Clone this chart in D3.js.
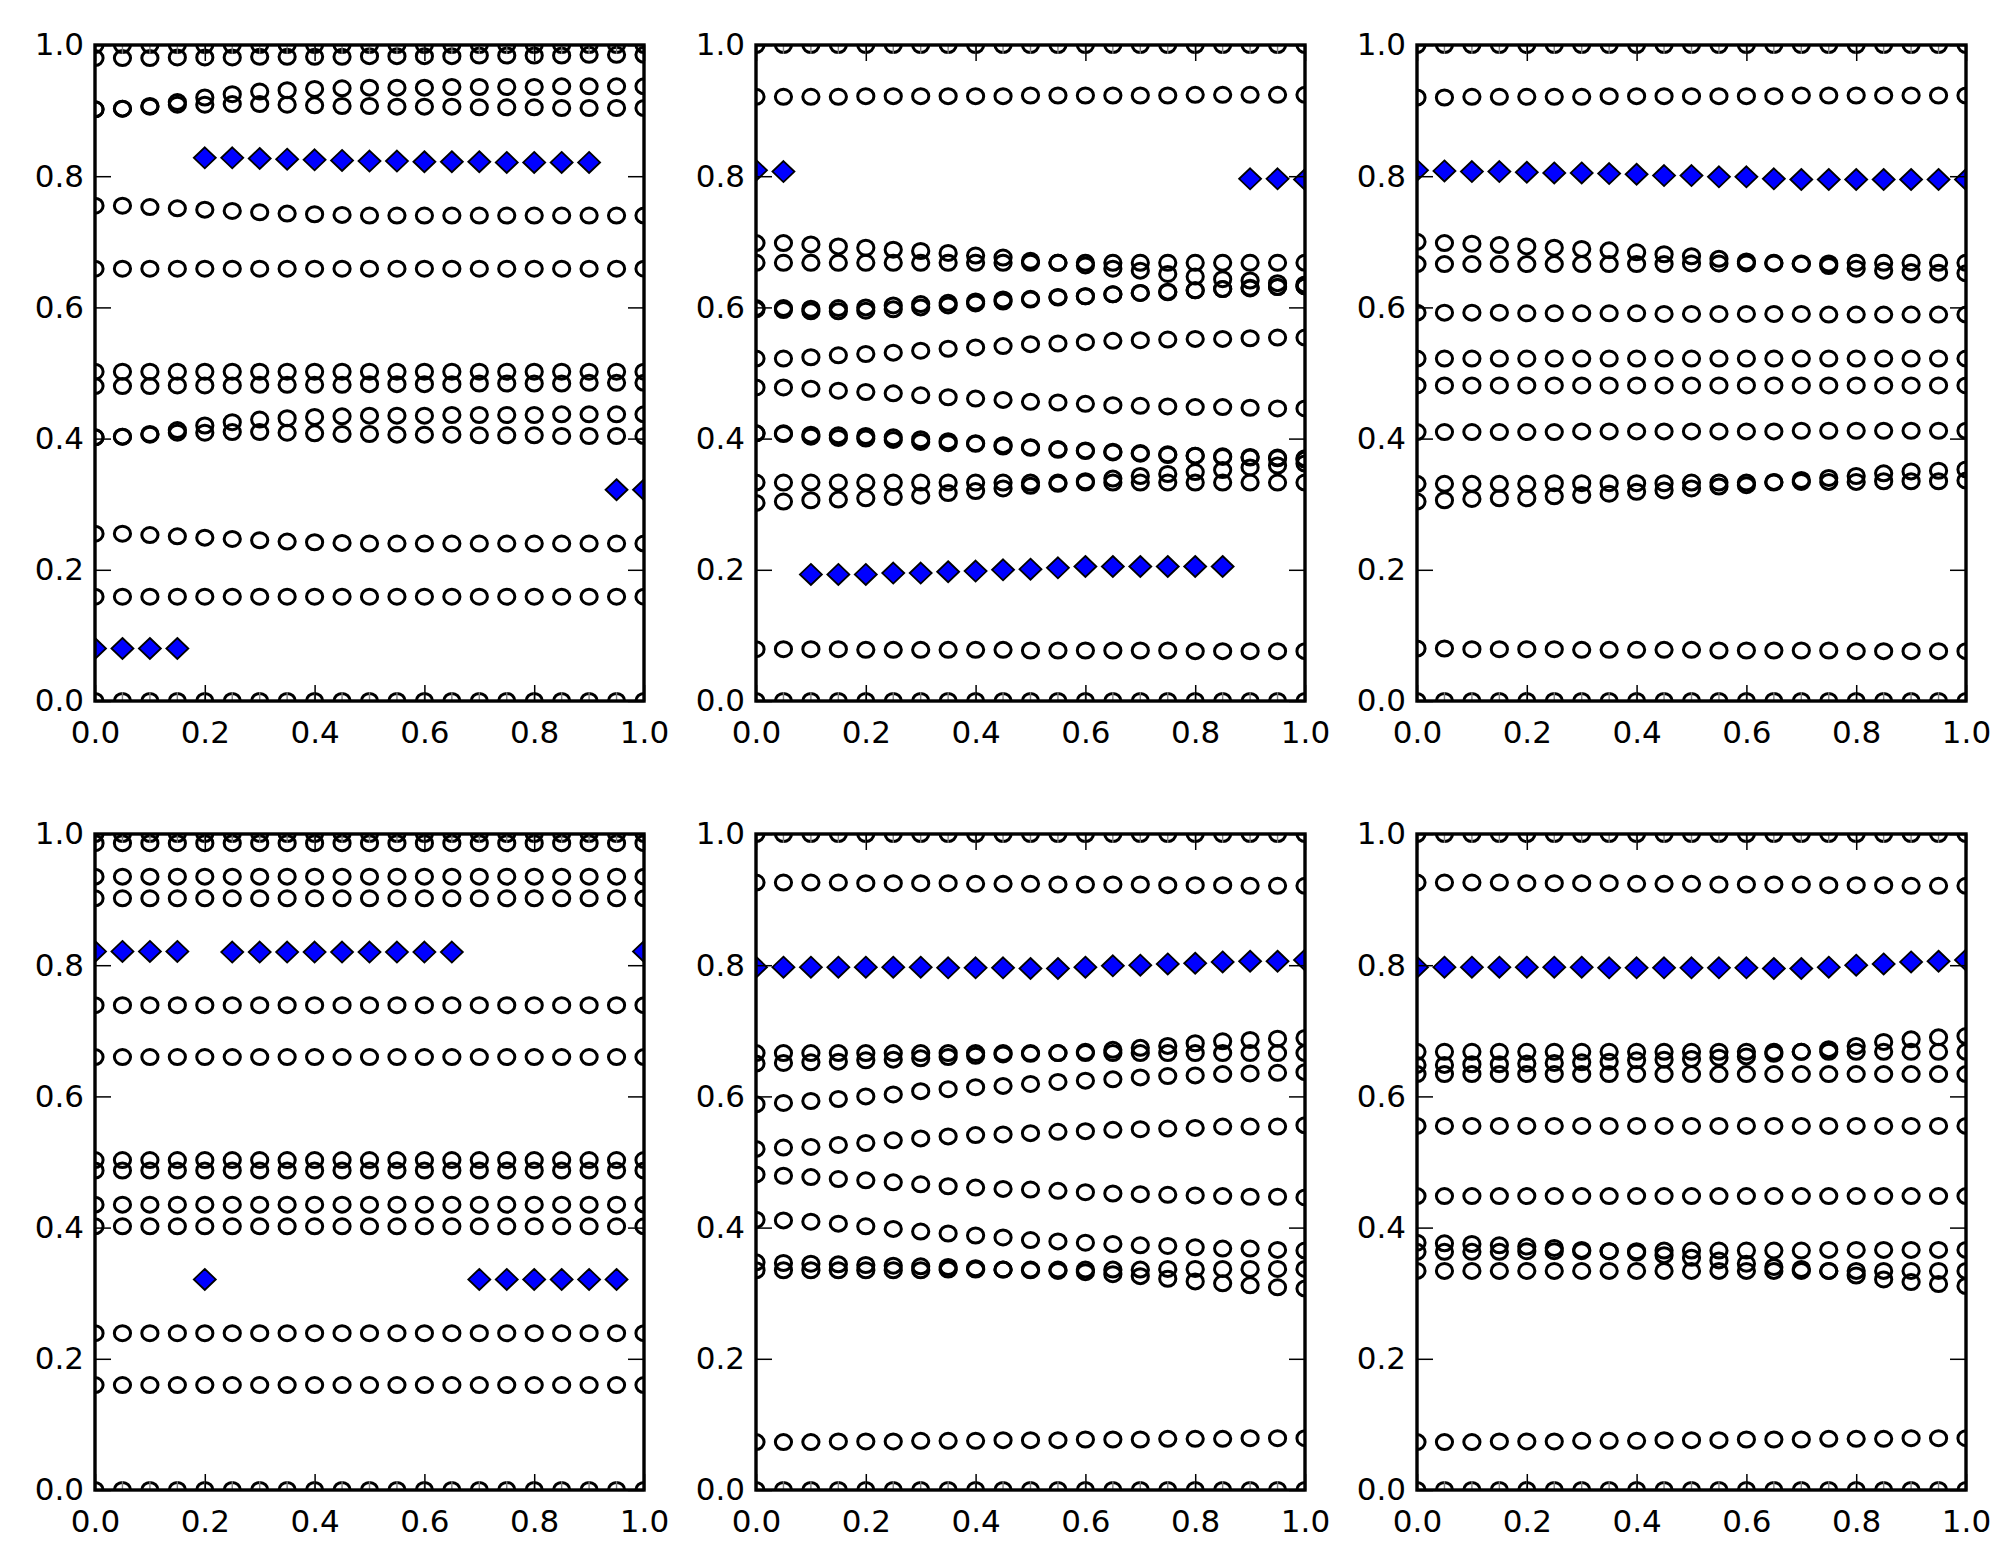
<!DOCTYPE html>
<html>
<head>
<meta charset="utf-8">
<style>
  body { margin: 0; background: #fff; }
</style>
</head>
<body>
<div id="chart"></div>
<script src="https://d3js.org/d3.v7.min.js"></script>
<script>
// x positions shared by every panel
const xValues = [0, 0.05, 0.1, 0.15, 0.2, 0.25, 0.3, 0.35, 0.4, 0.45, 0.5, 0.55, 0.6, 0.65, 0.7, 0.75, 0.8, 0.85, 0.9, 0.95, 1.0];
const tickValues = [0, 0.2, 0.4, 0.6, 0.8, 1.0];

// rows sitting on the top and bottom spines (half hidden)
const edgeTop = [1, 1, 1, 1, 1, 1, 1, 1, 1, 1, 1, 1, 1, 1, 1, 1, 1, 1, 1, 1, 1];
const edgeBottom = [0, 0, 0, 0, 0, 0, 0, 0, 0, 0, 0, 0, 0, 0, 0, 0, 0, 0, 0, 0, 0];

/* panel 1 (top left) */
const p1a = [0.980, 0.980, 0.980, 0.981, 0.981, 0.981, 0.982, 0.982, 0.982, 0.982, 0.983, 0.983, 0.983, 0.983, 0.984, 0.984, 0.984, 0.984, 0.985, 0.985, 0.985];
const p1b = [0.902, 0.903, 0.907, 0.913, 0.920, 0.925, 0.929, 0.931, 0.933, 0.934, 0.935, 0.935, 0.935, 0.936, 0.936, 0.936, 0.936, 0.937, 0.937, 0.937, 0.937];
const p1c = [0.902, 0.903, 0.906, 0.909, 0.909, 0.910, 0.910, 0.909, 0.908, 0.907, 0.907, 0.906, 0.906, 0.906, 0.905, 0.905, 0.905, 0.904, 0.904, 0.904, 0.904];
const p1d = [0.755, 0.755, 0.753, 0.751, 0.749, 0.747, 0.745, 0.743, 0.742, 0.741, 0.740, 0.740, 0.740, 0.740, 0.740, 0.740, 0.740, 0.740, 0.740, 0.740, 0.740];
const p1e = [0.659, 0.659, 0.659, 0.659, 0.659, 0.659, 0.659, 0.659, 0.659, 0.659, 0.659, 0.659, 0.659, 0.659, 0.659, 0.659, 0.659, 0.659, 0.659, 0.659, 0.659];
const p1f = [0.502, 0.502, 0.502, 0.502, 0.502, 0.502, 0.502, 0.502, 0.502, 0.502, 0.502, 0.502, 0.502, 0.502, 0.502, 0.502, 0.502, 0.502, 0.502, 0.502, 0.502];
const p1g = [0.480, 0.480, 0.480, 0.481, 0.481, 0.481, 0.482, 0.482, 0.482, 0.482, 0.483, 0.483, 0.483, 0.483, 0.484, 0.484, 0.484, 0.484, 0.485, 0.485, 0.485];
const p1h = [0.402, 0.403, 0.407, 0.413, 0.420, 0.425, 0.429, 0.431, 0.433, 0.434, 0.435, 0.435, 0.435, 0.436, 0.436, 0.436, 0.436, 0.437, 0.437, 0.437, 0.437];
const p1i = [0.402, 0.403, 0.406, 0.409, 0.409, 0.410, 0.410, 0.409, 0.408, 0.407, 0.407, 0.406, 0.406, 0.406, 0.405, 0.405, 0.405, 0.404, 0.404, 0.404, 0.404];
const p1j = [0.255, 0.255, 0.253, 0.251, 0.249, 0.247, 0.245, 0.243, 0.242, 0.241, 0.240, 0.240, 0.240, 0.240, 0.240, 0.240, 0.240, 0.240, 0.240, 0.240, 0.240];
const p1k = [0.159, 0.159, 0.159, 0.159, 0.159, 0.159, 0.159, 0.159, 0.159, 0.159, 0.159, 0.159, 0.159, 0.159, 0.159, 0.159, 0.159, 0.159, 0.159, 0.159, 0.159];
const p1Diamonds = [0.080, 0.080, 0.080, 0.080, 0.828, 0.828, 0.827, 0.826, 0.825, 0.824, 0.823, 0.823, 0.822, 0.822, 0.822, 0.821, 0.821, 0.821, 0.821, 0.322, 0.322];

/* panel 2 (top middle) */
const p2a = [0.921, 0.921, 0.921, 0.921, 0.922, 0.922, 0.922, 0.922, 0.922, 0.922, 0.923, 0.923, 0.923, 0.923, 0.923, 0.923, 0.924, 0.924, 0.924, 0.924, 0.924];
const p2b = [0.698, 0.698, 0.696, 0.693, 0.691, 0.688, 0.686, 0.683, 0.679, 0.676, 0.671, 0.668, 0.664, 0.659, 0.656, 0.651, 0.647, 0.643, 0.641, 0.637, 0.635];
const p2c = [0.668, 0.668, 0.668, 0.668, 0.668, 0.668, 0.668, 0.668, 0.668, 0.668, 0.668, 0.668, 0.668, 0.668, 0.668, 0.668, 0.668, 0.668, 0.668, 0.668, 0.668];
const p2d = [0.599, 0.599, 0.598, 0.599, 0.600, 0.603, 0.605, 0.607, 0.609, 0.612, 0.613, 0.616, 0.617, 0.620, 0.622, 0.623, 0.626, 0.628, 0.629, 0.631, 0.632];
const p2e = [0.597, 0.596, 0.594, 0.594, 0.595, 0.597, 0.600, 0.603, 0.606, 0.609, 0.612, 0.615, 0.617, 0.620, 0.622, 0.624, 0.626, 0.628, 0.630, 0.631, 0.632];
const p2f = [0.522, 0.522, 0.524, 0.527, 0.529, 0.531, 0.534, 0.537, 0.539, 0.541, 0.544, 0.545, 0.547, 0.549, 0.550, 0.551, 0.552, 0.552, 0.553, 0.554, 0.554];
const p2g = [0.478, 0.478, 0.476, 0.473, 0.471, 0.469, 0.466, 0.463, 0.461, 0.459, 0.456, 0.455, 0.453, 0.451, 0.450, 0.449, 0.448, 0.448, 0.447, 0.446, 0.446];
const p2h = [0.408, 0.408, 0.403, 0.401, 0.400, 0.398, 0.395, 0.393, 0.392, 0.388, 0.386, 0.383, 0.381, 0.379, 0.377, 0.375, 0.374, 0.373, 0.372, 0.371, 0.370];
const p2i = [0.408, 0.407, 0.406, 0.405, 0.404, 0.402, 0.399, 0.396, 0.393, 0.390, 0.387, 0.384, 0.382, 0.380, 0.378, 0.376, 0.374, 0.372, 0.371, 0.370, 0.368];
const p2j = [0.333, 0.333, 0.333, 0.333, 0.333, 0.333, 0.333, 0.333, 0.333, 0.333, 0.333, 0.333, 0.333, 0.333, 0.333, 0.333, 0.333, 0.333, 0.333, 0.333, 0.333];
const p2k = [0.302, 0.304, 0.306, 0.307, 0.309, 0.311, 0.313, 0.317, 0.320, 0.324, 0.328, 0.331, 0.335, 0.339, 0.343, 0.346, 0.349, 0.352, 0.356, 0.359, 0.362];
const p2l = [0.079, 0.079, 0.079, 0.079, 0.078, 0.078, 0.078, 0.078, 0.078, 0.078, 0.077, 0.077, 0.077, 0.077, 0.077, 0.077, 0.076, 0.076, 0.076, 0.076, 0.076];
const p2Diamonds = [0.809, 0.807, 0.193, 0.193, 0.193, 0.195, 0.195, 0.197, 0.198, 0.200, 0.201, 0.203, 0.205, 0.205, 0.205, 0.205, 0.205, 0.205, 0.796, 0.796, 0.795];

/* panel 3 (top right) */
const p3a = [0.920, 0.920, 0.921, 0.921, 0.921, 0.921, 0.921, 0.922, 0.922, 0.922, 0.922, 0.922, 0.922, 0.922, 0.923, 0.923, 0.923, 0.923, 0.923, 0.923, 0.923];
const p3b = [0.700, 0.698, 0.697, 0.695, 0.693, 0.691, 0.689, 0.687, 0.684, 0.681, 0.678, 0.674, 0.670, 0.668, 0.666, 0.663, 0.659, 0.656, 0.654, 0.653, 0.652];
const p3c = [0.666, 0.666, 0.666, 0.666, 0.666, 0.666, 0.666, 0.666, 0.666, 0.666, 0.667, 0.667, 0.667, 0.667, 0.667, 0.667, 0.668, 0.668, 0.668, 0.668, 0.668];
const p3d = [0.592, 0.592, 0.592, 0.592, 0.591, 0.591, 0.591, 0.591, 0.591, 0.590, 0.590, 0.590, 0.590, 0.590, 0.590, 0.589, 0.589, 0.589, 0.589, 0.589, 0.589];
const p3e = [0.522, 0.522, 0.522, 0.522, 0.522, 0.522, 0.522, 0.522, 0.522, 0.522, 0.522, 0.522, 0.522, 0.522, 0.522, 0.522, 0.522, 0.522, 0.522, 0.522, 0.522];
const p3f = [0.481, 0.481, 0.481, 0.481, 0.481, 0.481, 0.481, 0.481, 0.481, 0.481, 0.481, 0.481, 0.481, 0.481, 0.481, 0.481, 0.481, 0.481, 0.481, 0.481, 0.481];
const p3g = [0.410, 0.410, 0.410, 0.410, 0.410, 0.410, 0.411, 0.411, 0.411, 0.411, 0.411, 0.411, 0.411, 0.411, 0.412, 0.412, 0.412, 0.412, 0.412, 0.412, 0.412];
const p3h = [0.304, 0.306, 0.308, 0.309, 0.309, 0.312, 0.314, 0.316, 0.319, 0.321, 0.324, 0.327, 0.329, 0.334, 0.337, 0.340, 0.343, 0.347, 0.350, 0.351, 0.353];
const p3i = [0.331, 0.331, 0.331, 0.331, 0.331, 0.332, 0.332, 0.332, 0.332, 0.332, 0.333, 0.333, 0.333, 0.333, 0.334, 0.334, 0.334, 0.335, 0.335, 0.335, 0.336];
const p3j = [0.080, 0.080, 0.079, 0.079, 0.079, 0.079, 0.078, 0.078, 0.078, 0.078, 0.078, 0.077, 0.077, 0.077, 0.077, 0.077, 0.076, 0.076, 0.076, 0.076, 0.076];
const p3Diamonds = [0.809, 0.808, 0.807, 0.807, 0.806, 0.805, 0.805, 0.804, 0.803, 0.801, 0.801, 0.799, 0.799, 0.796, 0.795, 0.795, 0.795, 0.795, 0.795, 0.795, 0.795];

/* panel 4 (bottom left) */
const p4a = [0.986, 0.986, 0.986, 0.986, 0.986, 0.986, 0.986, 0.986, 0.986, 0.986, 0.986, 0.986, 0.986, 0.986, 0.986, 0.986, 0.986, 0.986, 0.986, 0.986, 0.986];
const p4b = [0.935, 0.935, 0.935, 0.935, 0.935, 0.935, 0.935, 0.935, 0.935, 0.935, 0.935, 0.935, 0.935, 0.935, 0.935, 0.935, 0.935, 0.935, 0.935, 0.935, 0.935];
const p4c = [0.902, 0.902, 0.902, 0.902, 0.902, 0.902, 0.902, 0.902, 0.902, 0.902, 0.902, 0.902, 0.902, 0.902, 0.902, 0.902, 0.902, 0.902, 0.902, 0.902, 0.902];
const p4d = [0.739, 0.739, 0.739, 0.739, 0.739, 0.739, 0.739, 0.739, 0.739, 0.739, 0.739, 0.739, 0.739, 0.739, 0.739, 0.739, 0.739, 0.739, 0.739, 0.739, 0.739];
const p4e = [0.660, 0.660, 0.660, 0.660, 0.660, 0.660, 0.660, 0.660, 0.660, 0.660, 0.660, 0.660, 0.660, 0.660, 0.660, 0.660, 0.660, 0.660, 0.660, 0.660, 0.660];
const p4f = [0.503, 0.503, 0.503, 0.503, 0.503, 0.503, 0.503, 0.503, 0.503, 0.503, 0.503, 0.503, 0.503, 0.503, 0.503, 0.503, 0.503, 0.503, 0.503, 0.503, 0.503];
const p4g = [0.487, 0.487, 0.487, 0.487, 0.487, 0.487, 0.487, 0.487, 0.487, 0.487, 0.487, 0.487, 0.487, 0.487, 0.487, 0.487, 0.487, 0.487, 0.487, 0.487, 0.487];
const p4h = [0.435, 0.435, 0.435, 0.435, 0.435, 0.435, 0.435, 0.435, 0.435, 0.435, 0.435, 0.435, 0.435, 0.435, 0.435, 0.435, 0.435, 0.435, 0.435, 0.435, 0.435];
const p4i = [0.402, 0.402, 0.402, 0.402, 0.402, 0.402, 0.402, 0.402, 0.402, 0.402, 0.402, 0.402, 0.402, 0.402, 0.402, 0.402, 0.402, 0.402, 0.402, 0.402, 0.402];
const p4j = [0.239, 0.239, 0.239, 0.239, 0.239, 0.239, 0.239, 0.239, 0.239, 0.239, 0.239, 0.239, 0.239, 0.239, 0.239, 0.239, 0.239, 0.239, 0.239, 0.239, 0.239];
const p4k = [0.160, 0.160, 0.160, 0.160, 0.160, 0.160, 0.160, 0.160, 0.160, 0.160, 0.160, 0.160, 0.160, 0.160, 0.160, 0.160, 0.160, 0.160, 0.160, 0.160, 0.160];
const p4Diamonds = [0.821, 0.821, 0.821, 0.821, 0.321, 0.820, 0.820, 0.820, 0.820, 0.820, 0.820, 0.820, 0.820, 0.820, 0.321, 0.321, 0.321, 0.321, 0.321, 0.321, 0.821];

/* panel 5 (bottom middle) */
const p5a = [0.926, 0.926, 0.926, 0.926, 0.925, 0.925, 0.925, 0.925, 0.924, 0.924, 0.924, 0.923, 0.923, 0.923, 0.923, 0.922, 0.922, 0.922, 0.921, 0.921, 0.921];
const p5b = [0.666, 0.666, 0.666, 0.666, 0.666, 0.666, 0.666, 0.666, 0.666, 0.666, 0.666, 0.666, 0.666, 0.666, 0.666, 0.666, 0.666, 0.666, 0.666, 0.666, 0.666];
const p5c = [0.650, 0.651, 0.652, 0.653, 0.655, 0.656, 0.658, 0.660, 0.662, 0.664, 0.665, 0.666, 0.668, 0.671, 0.674, 0.677, 0.681, 0.684, 0.686, 0.688, 0.689];
const p5d = [0.588, 0.590, 0.593, 0.596, 0.600, 0.603, 0.608, 0.611, 0.614, 0.616, 0.619, 0.622, 0.624, 0.626, 0.629, 0.631, 0.632, 0.634, 0.635, 0.636, 0.637];
const p5e = [0.520, 0.522, 0.523, 0.526, 0.529, 0.533, 0.536, 0.539, 0.541, 0.542, 0.544, 0.546, 0.547, 0.549, 0.550, 0.551, 0.552, 0.554, 0.554, 0.554, 0.556];
const p5f = [0.481, 0.479, 0.477, 0.474, 0.472, 0.469, 0.466, 0.463, 0.461, 0.459, 0.458, 0.456, 0.454, 0.452, 0.451, 0.450, 0.449, 0.448, 0.447, 0.447, 0.446];
const p5g = [0.412, 0.411, 0.409, 0.406, 0.402, 0.398, 0.394, 0.391, 0.388, 0.385, 0.381, 0.379, 0.377, 0.375, 0.373, 0.372, 0.370, 0.368, 0.368, 0.366, 0.365];
const p5h = [0.335, 0.335, 0.335, 0.335, 0.335, 0.335, 0.335, 0.336, 0.336, 0.336, 0.336, 0.336, 0.336, 0.336, 0.336, 0.337, 0.337, 0.337, 0.337, 0.337, 0.337];
const p5i = [0.347, 0.346, 0.345, 0.344, 0.343, 0.342, 0.341, 0.340, 0.338, 0.336, 0.335, 0.334, 0.332, 0.329, 0.326, 0.322, 0.318, 0.315, 0.312, 0.309, 0.307];
const p5j = [0.073, 0.073, 0.073, 0.074, 0.074, 0.074, 0.075, 0.075, 0.075, 0.076, 0.076, 0.076, 0.077, 0.077, 0.077, 0.078, 0.078, 0.078, 0.079, 0.079, 0.079];
const p5Diamonds = [0.797, 0.797, 0.797, 0.797, 0.797, 0.797, 0.797, 0.796, 0.796, 0.796, 0.795, 0.795, 0.797, 0.799, 0.800, 0.802, 0.803, 0.805, 0.806, 0.806, 0.808];

/* panel 6 (bottom right) */
const p6a = [0.926, 0.926, 0.926, 0.926, 0.925, 0.925, 0.925, 0.925, 0.924, 0.924, 0.924, 0.923, 0.923, 0.923, 0.923, 0.922, 0.922, 0.922, 0.921, 0.921, 0.921];
const p6b = [0.648, 0.648, 0.649, 0.649, 0.650, 0.651, 0.652, 0.653, 0.655, 0.656, 0.657, 0.659, 0.661, 0.665, 0.668, 0.672, 0.677, 0.683, 0.687, 0.690, 0.692];
const p6c = [0.668, 0.668, 0.668, 0.668, 0.668, 0.668, 0.668, 0.668, 0.668, 0.668, 0.668, 0.668, 0.668, 0.668, 0.668, 0.668, 0.668, 0.668, 0.668, 0.668, 0.668];
const p6d = [0.634, 0.634, 0.634, 0.634, 0.634, 0.634, 0.634, 0.634, 0.634, 0.634, 0.634, 0.634, 0.634, 0.634, 0.634, 0.634, 0.634, 0.634, 0.634, 0.634, 0.634];
const p6e = [0.555, 0.555, 0.555, 0.555, 0.555, 0.555, 0.555, 0.555, 0.555, 0.555, 0.555, 0.555, 0.555, 0.555, 0.555, 0.555, 0.555, 0.555, 0.555, 0.555, 0.555];
const p6f = [0.448, 0.448, 0.448, 0.448, 0.448, 0.448, 0.448, 0.448, 0.448, 0.448, 0.448, 0.448, 0.448, 0.448, 0.448, 0.448, 0.448, 0.448, 0.448, 0.448, 0.448];
const p6g = [0.377, 0.376, 0.375, 0.373, 0.371, 0.369, 0.366, 0.364, 0.362, 0.358, 0.354, 0.350, 0.345, 0.340, 0.337, 0.334, 0.327, 0.321, 0.317, 0.314, 0.311];
const p6h = [0.363, 0.363, 0.363, 0.363, 0.364, 0.364, 0.364, 0.364, 0.364, 0.365, 0.365, 0.365, 0.365, 0.365, 0.365, 0.366, 0.366, 0.366, 0.366, 0.366, 0.366];
const p6i = [0.334, 0.334, 0.334, 0.334, 0.334, 0.334, 0.334, 0.334, 0.334, 0.334, 0.334, 0.334, 0.334, 0.334, 0.334, 0.334, 0.334, 0.334, 0.334, 0.334, 0.334];
const p6j = [0.073, 0.073, 0.073, 0.074, 0.074, 0.074, 0.075, 0.075, 0.075, 0.076, 0.076, 0.076, 0.077, 0.077, 0.077, 0.078, 0.078, 0.078, 0.079, 0.079, 0.079];
const p6Diamonds = [0.797, 0.797, 0.797, 0.797, 0.797, 0.797, 0.797, 0.796, 0.796, 0.796, 0.796, 0.796, 0.796, 0.795, 0.795, 0.797, 0.800, 0.802, 0.805, 0.806, 0.808];

const panels = [
    { circles: [edgeTop, edgeBottom, p1a, p1b, p1c, p1d, p1e, p1f, p1g, p1h, p1i, p1j, p1k], diamonds: p1Diamonds },
    { circles: [edgeTop, edgeBottom, p2a, p2b, p2c, p2d, p2e, p2f, p2g, p2h, p2i, p2j, p2k, p2l], diamonds: p2Diamonds },
    { circles: [edgeTop, edgeBottom, p3a, p3b, p3c, p3d, p3e, p3f, p3g, p3h, p3i, p3j], diamonds: p3Diamonds },
    { circles: [edgeTop, edgeBottom, p4a, p4b, p4c, p4d, p4e, p4f, p4g, p4h, p4i, p4j, p4k], diamonds: p4Diamonds },
    { circles: [edgeTop, edgeBottom, p5a, p5b, p5c, p5d, p5e, p5f, p5g, p5h, p5i, p5j], diamonds: p5Diamonds },
    { circles: [edgeTop, edgeBottom, p6a, p6b, p6c, p6d, p6e, p6f, p6g, p6h, p6i, p6j], diamonds: p6Diamonds }
];

const width = 2004, height = 1565;
const panelW = 549, panelH = 656;
const colX = [95, 756, 1417],
    rowY = [45, 834];
const fmt = d3.format('.1f');

const svg = d3.select('#chart').append('svg')
    .attr('width', width)
    .attr('height', height)
    .style('background', '#fff');

const pairs = series => series.map((v, j) => [xValues[j], v]);

panels.forEach((p, i) => {
    const g = svg.append('g')
        .attr('transform', `translate(${colX[i % 3]},${rowY[Math.floor(i / 3)]})`);
    const x = d3.scaleLinear().domain([0, 1]).range([0, panelW]);
    const y = d3.scaleLinear().domain([0, 1]).range([panelH, 0]);

    g.append('clipPath').attr('id', `clip${i}`)
        .append('rect').attr('width', panelW).attr('height', panelH);
    const plot = g.append('g').attr('clip-path', `url(#clip${i})`);

    // open circles (a touch wider than tall, like the original)
    p.circles.forEach(series => {
        plot.append('g').selectAll('ellipse')
            .data(pairs(series))
            .join('ellipse')
            .attr('cx', d => x(d[0]))
            .attr('cy', d => y(d[1]))
            .attr('rx', 8.1)
            .attr('ry', 7.5)
            .attr('fill', 'none')
            .attr('stroke', '#000')
            .attr('stroke-width', 3);
    });

    // small grey crosses on the rows lying on the spines
    [edgeTop, edgeBottom].forEach(series => {
        plot.append('g').selectAll('path')
            .data(pairs(series))
            .join('path')
            .attr('transform', d => `translate(${x(d[0])},${y(d[1])})`)
            .attr('d', 'M0,-9V9M-9,0H9')
            .attr('stroke', '#7a7a7a')
            .attr('stroke-width', 1.4);
    });

    // blue diamonds
    plot.append('g').selectAll('path')
        .data(pairs(p.diamonds))
        .join('path')
        .attr('transform', d => `translate(${x(d[0])},${y(d[1])})`)
        .attr('d', 'M0,-10.5L11,0L0,10.5L-11,0Z')
        .attr('fill', '#0000ff')
        .attr('stroke', '#000')
        .attr('stroke-width', 1.8);

    // axes, ticks pointing inward on all four sides
    const styleAxis = a => {
        a.select('.domain').remove();
        a.selectAll('.tick line').attr('stroke', '#000').attr('stroke-width', 1.5);
        a.selectAll('.tick text').attr('fill', '#000');
        a.attr('font-size', 31).attr('font-family', "'DejaVu Sans', sans-serif");
    };
    g.append('g').attr('transform', `translate(0,${panelH})`)
        .call(d3.axisBottom(x).tickValues(tickValues).tickFormat(fmt).tickSize(-16).tickPadding(20))
        .call(styleAxis);
    g.append('g')
        .call(d3.axisTop(x).tickValues(tickValues).tickFormat('').tickSize(-16))
        .call(styleAxis);
    g.append('g')
        .call(d3.axisLeft(y).tickValues(tickValues).tickFormat(fmt).tickSize(-16).tickPadding(11))
        .call(styleAxis);
    g.append('g').attr('transform', `translate(${panelW},0)`)
        .call(d3.axisRight(y).tickValues(tickValues).tickFormat('').tickSize(-16))
        .call(styleAxis);

    // frame
    g.append('rect')
        .attr('width', panelW)
        .attr('height', panelH)
        .attr('fill', 'none')
        .attr('stroke', '#000')
        .attr('stroke-width', 3.4);
});
</script>
</body>
</html>
